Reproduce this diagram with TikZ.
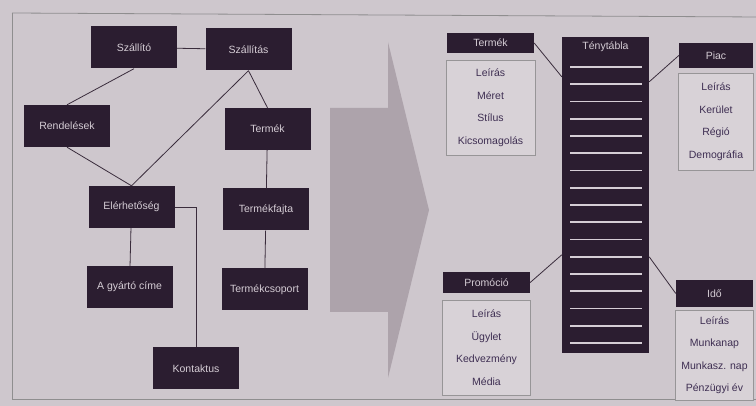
\documentclass[tikz,border=0pt]{standalone}
\usepackage{fontspec}
\setmainfont{Liberation Sans}
\usepackage{tikz}
\usetikzlibrary {arrows.meta,
                 positioning}
\definecolor{lap}{HTML}{CEC7CD}
\definecolor{sotet}{HTML}{2B1D30}
\definecolor{vilagos}{HTML}{D5CDD5}
\definecolor{lilabetu}{HTML}{3E2E52}
\definecolor{vonal}{HTML}{3A2C3C}
\definecolor{nyil}{HTML}{ADA3AB}
\tikzset{
        base/.style={align=center, inner sep=1pt, font=\fontsize{10.5}{12}\selectfont},
        egyed/.style={base, fill=sotet, text=vilagos, minimum width=86pt,
                      minimum height=42pt},
        fej/.style={base, fill=sotet, text=vilagos, minimum height=21pt},
        lista/.style={base, draw=gray!70!lap, fill=lap!80!white, text=lilabetu,
                      minimum height=95pt, font=\fontsize{10.5}{22.5}\selectfont},
        kapcs/.style={draw=vonal, line width=0.8pt},
        tablacsik/.style={draw=vilagos, line width=1.6pt},
 }

\begin{document}
\begin{tikzpicture}[x=1pt, y=-1pt]
    \useasboundingbox (0,0) rectangle (756,406);
    \fill[lap] (0,0) rectangle (756,406);
    \draw[gray!80!lap, line width=0.8pt] (12,13) -- (760,17);
    \draw[gray!80!lap, line width=0.8pt] (12,13) -- (12,399) -- (760,399);

    % nagy nyil
    \fill[nyil] (330,108) -- (388,108) -- (388,42) -- (429,210)
        -- (388,378) -- (388,312) -- (330,312) -- cycle;

    % bal oldal
    \node[egyed] (szallito) at (134,47.5) {Szállító};
    \node[egyed] (szallitas) at (248.5,49.5) {Szállítás};
    \node[egyed] (rendelesek) at (67,126) {Rendelések};
    \node[egyed] (termek) at (267.5,129) {Termék};
    \node[egyed] (eler) at (131.5,207) {Elérhetőség};
    \node[egyed] (fajta) at (266,209.5) {Termékfajta};
    \node[egyed] (gyarto) at (129.5,287) {A gyártó címe};
    \node[egyed] (csoport) at (264.5,289.5) {Termékcsoport};
    \node[egyed] (kontaktus) at (196,368.5) {Kontaktus};

    \draw[kapcs] (szallito) -- (szallitas);
    \draw[kapcs] (szallito.south) -- (rendelesek.north);
    \draw[kapcs] (szallitas.south) -- (eler.north);
    \draw[kapcs] (szallitas.south) -- (termek.north);
    \draw[kapcs] (rendelesek.south) -- (eler.north);
    \draw[kapcs] (termek) -- (fajta);
    \draw[kapcs] (fajta) -- (csoport);
    \draw[kapcs] (eler) -- (gyarto);
    \draw[kapcs] (eler.east) -| (kontaktus.north);

    % jobb oldal
    \node[fej, minimum width=87pt, minimum height=20pt] (termekfej) at (490.5,43) {Termék};
    \node[lista, minimum width=89pt, below=7pt of termekfej]
        (termeklista) {Leírás\\Méret\\Stílus\\Kicsomagolás};

    \node[fej, minimum width=74pt, minimum height=25pt] (piacfej) at (716,55.5) {Piac};
    \node[lista, minimum width=75pt, minimum height=97pt, below=5pt of piacfej]
        (piaclista) {Leírás\\Kerület\\Régió\\Demográfia};

    \node[fej, minimum width=87pt] (promofej) at (486.5,282.5) {Promóció};
    \node[lista, minimum width=88pt, below=7pt of promofej]
        (promolista) {Leírás\\Ügylet\\Kedvezmény\\Média};

    \node[fej, minimum width=77pt, minimum height=27pt] (idofej) at (714.5,293.5) {Idő};
    \node[lista, minimum width=78pt, minimum height=90pt, below=3pt of idofej]
        (idolista) {Leírás\\Munkanap\\Munkasz. nap\\Pénzügyi év};

    \node[fill=sotet, minimum width=87pt, minimum height=316pt] (tabla) at (605.5,195) {};
    \node[base, text=vilagos, below=4pt of tabla.north] (tablacim) {Ténytábla};
    \foreach \i in {0,...,16}
        \draw[tablacsik] (570,{67+17.25*\i}) -- (642,{67+17.25*\i});

    \coordinate (tb1) at ([yshift=-40pt]tabla.north west);
    \coordinate (tj1) at ([yshift=-45pt]tabla.north east);
    \coordinate (tb2) at ([yshift=-218pt]tabla.north west);
    \coordinate (tj2) at ([yshift=-220pt]tabla.north east);

    \draw[kapcs] (termekfej.east) -- (tb1);
    \draw[kapcs] (tj1) -- (piacfej.west);
    \draw[kapcs] (promofej.east) -- (tb2);
    \draw[kapcs] (tj2) -- (idofej.west);
\end{tikzpicture}
\end{document}
